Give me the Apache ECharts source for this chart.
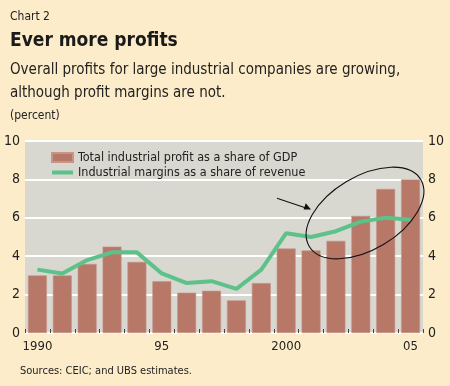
<!DOCTYPE html>
<html>
<head>
<meta charset="utf-8">
<script src="https://cdn.jsdelivr.net/npm/echarts@6/dist/echarts.min.js"></script>
<style>
html,body{margin:0;padding:0;background:#fdecc9;}
#c{width:450px;height:386px;}
</style>
</head>
<body>
<div id="c"></div>
<script>
const years = ['1990','1991','1992','1993','1994','1995','1996','1997','1998','1999','2000','2001','2002','2003','2004','2005'];
const yearLabels = {'1990':'1990','1995':'95','2000':'2000','2005':'05'};
const profitShareGDP = [3.0,3.0,3.6,4.5,3.7,2.7,2.1,2.2,1.7,2.6,4.4,4.3,4.8,6.1,7.5,8.0];
const marginShareRevenue = [3.3,3.1,3.8,4.2,4.2,3.1,2.6,2.7,2.3,3.3,5.2,5.0,5.3,5.8,6.0,5.9];
const yTicks = [0,2,4,6,8,10];

const FONT = "'Liberation Sans Narrow','DejaVu Sans Condensed','Roboto Condensed','Liberation Sans',sans-serif";
const chart = echarts.init(document.getElementById('c'), null, {renderer:'canvas'});
const txt = (size, weight) => ({fontFamily:FONT,fontSize:size,fontWeight:weight||'normal',color:'#222'});
const option = {
  backgroundColor:'#fdecc9',
  animation:false,
  textStyle:{fontFamily:FONT},
  title:[
    {text:'Chart 2', left:10, top:11, padding:0, textStyle:txt(12)},
    {text:'Ever more profits', left:10, top:32, padding:0, textStyle:Object.assign(txt(19,'bold'),{color:'#1a1a1a'})},
    {text:'Overall profits for large industrial companies are growing,\nalthough profit margins are not.', left:10, top:59, padding:0,
      textStyle:Object.assign(txt(15),{lineHeight:23})},
    {text:'(percent)', left:10, top:110, padding:0, textStyle:txt(12)},
    {text:'Sources: CEIC; and UBS estimates.', left:20, top:366, padding:0, textStyle:txt(11)}
  ],
  legend:{
    orient:'vertical', left:50, top:151, padding:0, itemWidth:21, itemHeight:9, itemGap:2, itemGap:2,
    textStyle:{fontFamily:FONT,fontSize:12.5,color:'#222'},
    data:[
      {name:'Total industrial profit as a share of GDP', icon:'rect'},
      {name:'Industrial margins as a share of revenue', itemStyle:{opacity:0}, lineStyle:{width:4}}
    ]
  },
  grid:{left:25, right:27, top:141, bottom:53, show:true, backgroundColor:'#d8d7d0', borderWidth:0},
  xAxis:{
    type:'category', data:years, boundaryGap:true,
    axisLine:{show:false},
    axisTick:{show:true, inside:true, length:4, lineStyle:{color:'#444',width:1}},
    axisLabel:{interval:0, fontFamily:FONT, fontSize:13, color:'#222', margin:7,
      formatter:v=>yearLabels[v]||''}
  },
  yAxis:[
    {type:'value', min:0, max:10, interval:2, position:'left',
      axisLine:{show:false}, axisTick:{show:false},
      axisLabel:{fontFamily:FONT,fontSize:14,color:'#222',margin:5, formatter:v=>yTicks.includes(v)?String(v):''},
      splitLine:{show:true, lineStyle:{color:'#ffffff',width:2}}},
    {type:'value', min:0, max:10, interval:2, position:'right',
      axisLine:{show:false}, axisTick:{show:false},
      axisLabel:{fontFamily:FONT,fontSize:14,color:'#222',margin:5, formatter:v=>yTicks.includes(v)?String(v):''},
      splitLine:{show:false}}
  ],
  series:[
    {name:'Total industrial profit as a share of GDP', type:'bar', data:profitShareGDP, barWidth:'76%',
      itemStyle:{color:'#b77868', borderColor:'#c8948a', borderWidth:0.6}, z:2},
    {name:'Industrial margins as a share of revenue', type:'line', data:marginShareRevenue, symbol:'none',
      lineStyle:{color:'#5cc28a', width:4}, itemStyle:{color:'#5cc28a'}, z:3}
  ],
  graphic:[
    {type:'ellipse', x:365, y:213, rotation:31*Math.PI/180, shape:{cx:0,cy:0,rx:65,ry:36.5},
      style:{fill:'none', stroke:'#111', lineWidth:1.1}, z:10},
    {type:'line', shape:{x1:277, y1:198.3, x2:306, y2:208}, style:{stroke:'#111', lineWidth:1.1}, z:10},
    {type:'polygon', shape:{points:[[311,209.6],[303.5,209.6],[305.8,203.3]]}, style:{fill:'#111'}, z:10}
  ]
};
chart.setOption(option);
</script>
</body>
</html>
